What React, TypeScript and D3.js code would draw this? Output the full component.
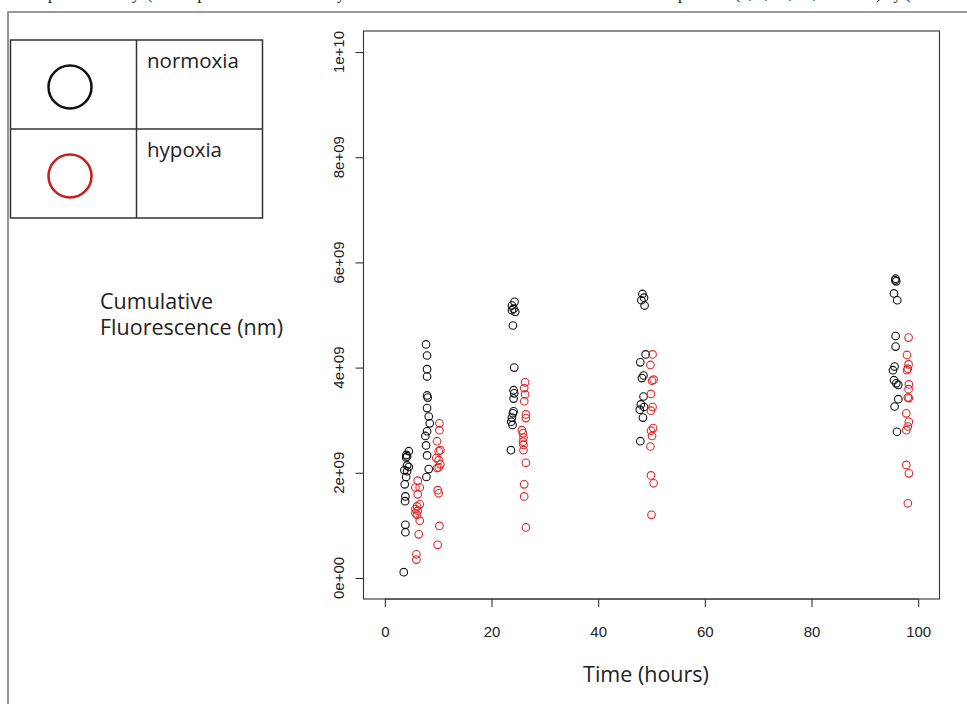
import React, { useEffect, useRef } from "react";
import * as d3 from "d3";

// normoxia (black) samples: time in hours, cumulative fluorescence
const normoxiaHours = [
  4.49, 4.05, 4.18, 3.99, 4.18, 4.49, 3.67, 4.18, 3.99, 3.73, 3.86, 3.8, 3.86, 3.86, 3.55,
  7.73, 7.92, 7.92, 7.92, 7.92, 8.04, 7.92, 8.23, 8.42, 7.92, 7.6, 7.73, 7.92, 8.23, 7.79,
  24.32, 23.83, 24.14, 23.83, 24.45, 24.02, 24.26, 24.14, 24.26, 24.14, 24.14, 24.02, 23.83, 23.7, 23.95, 23.64,
  48.3, 48.6, 48.1, 48.7, 48.9, 47.9, 48.5, 48.2, 48.5, 48.0, 48.6, 47.8, 48.4, 47.9,
  95.77, 95.71, 95.9, 95.46, 96.08, 95.77, 95.77, 95.58, 95.27, 95.46, 95.9, 96.27, 96.27, 95.58, 96.02,
];
const normoxiaValues = [
  2.41e9, 2.34e9, 2.31e9, 2.29e9, 2.14e9, 2.11e9, 2.05e9, 2.03e9, 1.92e9, 1.78e9, 1.55e9, 1.46e9, 1.01e9, 0.87e9, 0.11e9,
  4.44e9, 4.23e9, 3.97e9, 3.83e9, 3.47e9, 3.43e9, 3.23e9, 3.07e9, 2.94e9, 2.79e9, 2.7e9, 2.52e9, 2.33e9, 2.07e9, 1.92e9,
  5.25e9, 5.18e9, 5.12e9, 5.09e9, 5.06e9, 4.8e9, 4.0e9, 3.57e9, 3.51e9, 3.41e9, 3.17e9, 3.13e9, 3.05e9, 2.97e9, 2.91e9, 2.43e9,
  5.4e9, 5.33e9, 5.28e9, 5.18e9, 4.25e9, 4.1e9, 3.85e9, 3.8e9, 3.45e9, 3.3e9, 3.25e9, 3.2e9, 3.05e9, 2.6e9,
  5.69e9, 5.66e9, 5.64e9, 5.41e9, 5.28e9, 4.6e9, 4.4e9, 4.02e9, 3.95e9, 3.76e9, 3.7e9, 3.67e9, 3.4e9, 3.26e9, 2.78e9,
];

// hypoxia (red) samples
const hypoxiaHours = [
  6.17, 5.73, 6.54, 6.17, 6.54, 6.05, 5.73, 6.17, 5.73, 6.05, 6.54, 6.36, 5.92, 5.92,
  10.23, 10.23, 9.79, 10.41, 10.1, 9.66, 10.1, 10.41, 9.79, 10.1, 9.91, 10.1, 10.23, 9.91,
  26.3, 26.13, 26.3, 26.13, 26.45, 26.45, 25.7, 25.9, 26.0, 25.9, 26.0, 26.0, 26.45, 26.13, 26.13, 26.45,
  50.2, 49.8, 50.4, 50.1, 49.9, 50.2, 49.9, 50.3, 49.9, 50.1, 49.8, 49.9, 50.4, 50.0,
  98.2, 97.9, 98.2, 98.06, 97.9, 98.26, 98.2, 98.06, 98.26, 97.77, 98.26, 98.06, 97.77, 97.77, 98.26, 98.06,
];
const hypoxiaValues = [
  1.85e9, 1.72e9, 1.72e9, 1.59e9, 1.4e9, 1.36e9, 1.31e9, 1.28e9, 1.23e9, 1.2e9, 1.09e9, 0.83e9, 0.45e9, 0.35e9,
  2.94e9, 2.81e9, 2.6e9, 2.43e9, 2.41e9, 2.28e9, 2.24e9, 2.16e9, 2.09e9, 2.1e9, 1.67e9, 1.61e9, 0.99e9, 0.63e9,
  3.72e9, 3.61e9, 3.49e9, 3.36e9, 3.11e9, 3.04e9, 2.81e9, 2.75e9, 2.67e9, 2.59e9, 2.53e9, 2.43e9, 2.19e9, 1.78e9, 1.55e9, 0.96e9,
  4.25e9, 4.05e9, 3.77e9, 3.75e9, 3.5e9, 3.25e9, 3.18e9, 2.85e9, 2.8e9, 2.7e9, 2.5e9, 1.95e9, 1.8e9, 1.2e9,
  4.57e9, 4.24e9, 4.06e9, 3.98e9, 3.95e9, 3.68e9, 3.59e9, 3.43e9, 3.42e9, 3.13e9, 2.97e9, 2.88e9, 2.81e9, 2.15e9, 1.99e9, 1.42e9,
];

const xTicks = [0, 20, 40, 60, 80, 100];
const yTicks = [0, 2e9, 4e9, 6e9, 8e9, 1e10];
const yTickLabels = ["0e+00", "2e+09", "4e+09", "6e+09", "8e+09", "1e+10"];

const seriesNames = ["normoxia", "hypoxia"];
const seriesColors = ["#111111", "#e02828"];
const legendColors = ["#111111", "#c81e1e"];

const yTitleLines = ["Cumulative", "Fluorescence (nm)"];
const xTitle = "Time (hours)";
// line of body text above the figure, only its lowest part shows
const cutLine = ["up", "by", "(", "compared", "by", "up", "(4, 8, 24, 48, 96 hours) by ("];

const W = 967;
const H = 704;
const BOX = { left: 363.5, top: 31, right: 939.5, bottom: 599 };
const LABEL_FONT = "'Liberation Sans', Arial, Helvetica, sans-serif";
const NOTE_FONT = "'Open Sans', 'Noto Sans', sans-serif";

const App = () => {
  const ref = useRef<SVGSVGElement | null>(null);

  useEffect(() => {
    const svg = d3.select(ref.current);
    svg.selectAll("*").remove();

    const x = d3.scaleLinear().domain([-4, 104]).range([BOX.left, BOX.right]);
    const y = d3.scaleLinear().domain([-0.4e9, 10.4e9]).range([BOX.bottom, BOX.top]);

    svg.append("rect").attr("width", W).attr("height", H).attr("fill", "#fff");

    // text line cut off at the top of the page
    const cut = svg
      .append("text")
      .attr("y", -1)
      .attr("font-family", "'Liberation Serif', 'Times New Roman', serif")
      .attr("font-size", 16)
      .attr("fill", "#111");
    const cutX = [40, 124, 147, 170, 329, 670, 735];
    cutLine.forEach((t, i) => cut.append("tspan").attr("x", cutX[i]).text(t));

    // outer frame
    svg
      .append("path")
      .attr("d", `M8,${H} L8,12 L${W},12`)
      .attr("fill", "none")
      .attr("stroke", "#7a7a7a")
      .attr("stroke-width", 1.6);

    // plot box
    svg
      .append("rect")
      .attr("x", BOX.left)
      .attr("y", BOX.top)
      .attr("width", BOX.right - BOX.left)
      .attr("height", BOX.bottom - BOX.top)
      .attr("fill", "none")
      .attr("stroke", "#333")
      .attr("stroke-width", 1.1);

    // x axis
    const gx = svg
      .append("g")
      .attr("transform", `translate(0,${BOX.bottom})`)
      .call(d3.axisBottom(x).tickValues(xTicks).tickSize(8).tickSizeOuter(0).tickPadding(19));
    gx.select(".domain").attr("d", `M${x(0)},0H${x(100)}`).attr("stroke", "#333");
    gx.selectAll(".tick line").attr("stroke", "#333").attr("stroke-width", 1.1);
    gx.selectAll(".tick text")
      .attr("font-family", LABEL_FONT)
      .attr("font-size", 15)
      .attr("fill", "#222");

    // y axis
    const gy = svg
      .append("g")
      .attr("transform", `translate(${BOX.left},0)`)
      .call(d3.axisLeft(y).tickValues(yTicks).tickSize(8).tickSizeOuter(0).tickFormat(() => ""));
    gy.select(".domain").attr("d", `M0,${y(0)}V${y(1e10)}`).attr("stroke", "#333");
    gy.selectAll(".tick line").attr("stroke", "#333").attr("stroke-width", 1.1);
    svg
      .append("g")
      .selectAll("text")
      .data(yTicks)
      .enter()
      .append("text")
      .attr("transform", (d) => `translate(339,${y(d)}) rotate(-90)`)
      .attr("text-anchor", "middle")
      .attr("dy", "0.35em")
      .attr("font-family", LABEL_FONT)
      .attr("font-size", 15)
      .attr("fill", "#222")
      .text((d, i) => yTickLabels[i]);

    // points
    const series = [
      { hours: normoxiaHours, values: normoxiaValues, color: seriesColors[0] },
      { hours: hypoxiaHours, values: hypoxiaValues, color: seriesColors[1] },
    ];
    series.forEach((s) => {
      svg
        .append("g")
        .selectAll("circle")
        .data(s.hours.map((h, i) => ({ h, v: s.values[i] })))
        .enter()
        .append("circle")
        .attr("cx", (d) => x(d.h))
        .attr("cy", (d) => y(d.v))
        .attr("r", 3.8)
        .attr("fill", "none")
        .attr("stroke", s.color)
        .attr("stroke-width", 1.1);
    });

    // legend table
    const lg = svg.append("g");
    lg.append("rect")
      .attr("x", 10.5)
      .attr("y", 40)
      .attr("width", 252)
      .attr("height", 178)
      .attr("fill", "none")
      .attr("stroke", "#333")
      .attr("stroke-width", 1.5);
    lg.append("line").attr("x1", 136.5).attr("x2", 136.5).attr("y1", 40).attr("y2", 218)
      .attr("stroke", "#333").attr("stroke-width", 1.5);
    lg.append("line").attr("x1", 10.5).attr("x2", 262.5).attr("y1", 129).attr("y2", 129)
      .attr("stroke", "#333").attr("stroke-width", 1.5);
    seriesNames.forEach((name, i) => {
      const top = 40 + i * 89;
      lg.append("circle")
        .attr("cx", 70)
        .attr("cy", top + 47)
        .attr("r", 21.5)
        .attr("fill", "none")
        .attr("stroke", legendColors[i])
        .attr("stroke-width", 2.5);
      lg.append("text")
        .attr("x", 147)
        .attr("y", top + 28)
        .attr("font-family", NOTE_FONT)
        .attr("font-size", 20.5)
        .attr("fill", "#222")
        .text(name);
    });

    // y title as a note
    yTitleLines.forEach((t, i) => {
      svg
        .append("text")
        .attr("x", 100)
        .attr("y", 309 + i * 26)
        .attr("font-family", NOTE_FONT)
        .attr("font-size", 21.5)
        .attr("fill", "#222")
        .text(t);
    });

    // x title
    svg
      .append("text")
      .attr("x", 646)
      .attr("y", 682)
      .attr("text-anchor", "middle")
      .attr("font-family", NOTE_FONT)
      .attr("font-size", 21.5)
      .attr("fill", "#222")
      .text(xTitle);
  }, []);

  return (
    <svg
      ref={ref}
      width={W}
      height={H}
      style={{ position: "absolute", left: 0, top: 0, display: "block" }}
    />
  );
};

export default App;
